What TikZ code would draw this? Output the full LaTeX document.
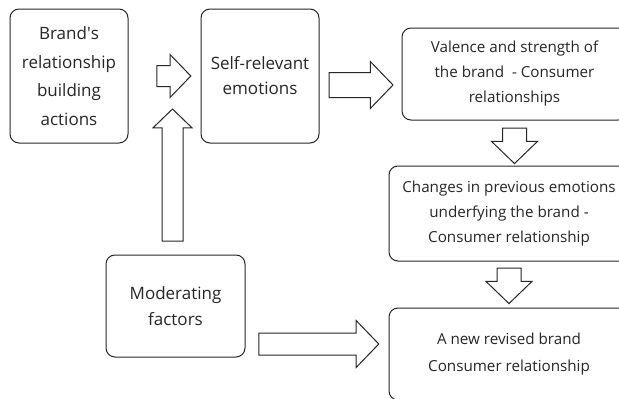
\documentclass[tikz,border=0pt]{standalone}
\usepackage{fontspec}
\setmainfont{Open Sans}
\usetikzlibrary{positioning,shapes.arrows}

\begin{document}
\begin{tikzpicture}[
		box/.style={rectangle, rounded corners=9pt, draw=black!85, line width=1pt, align=center, text=black!85, inner sep=0pt},
		bigbox/.style={box, font=\fontsize{17}{25}\selectfont},
		smallbox/.style={box, font=\fontsize{15.2}{25}\selectfont},
		barrow/.style={single arrow, draw=black!85, line width=1pt, fill=white, inner sep=10pt, single arrow head extend=11pt, single arrow tip angle=92}
	]
	\useasboundingbox (0,0) rectangle (619pt,-399pt);
	\node[bigbox, minimum width=118pt, minimum height=134pt, font=\fontsize{17}{28.5}\selectfont] (brand) at (69pt,-76pt) {Brand\textquotesingle s\\relationship\\building\\actions};
	\node[bigbox, minimum width=118pt, minimum height=134pt] (self) [right=72pt of brand] {Self-relevant\\emotions};
	\node[smallbox, minimum width=225pt, minimum height=92pt] (valence) [right=82pt of self, yshift=2pt] {Valence and strength of\\the brand~ - Consumer\\relationships};
	\node[smallbox, minimum width=240pt, minimum height=95pt] (changes) [below=45pt of valence, xshift=-5.5pt] {Changes in previous emotions\\underfying the brand -\\Consumer relationship};
	\node[smallbox, minimum width=240pt, minimum height=92pt, font=\fontsize{15.2}{27}\selectfont] (revised) [below=46pt of changes] {A new revised brand\\Consumer relationship};
	\node[bigbox, minimum width=139pt, minimum height=102pt, font=\fontsize{17}{26}\selectfont] (moderating) at (175.5pt,-306pt) {Moderating\\factors};
	% block arrows
	\node[barrow, minimum height=34pt] (a1) [left=9pt of self] {};
	\node[barrow, minimum height=64pt, inner sep=12pt] (a2) [right=9pt of self, yshift=-9pt] {};
	\node[barrow, minimum height=35pt, inner sep=11.5pt, shape border rotate=270] (a3) [below=7pt of valence] {};
	\node[barrow, minimum height=34pt, inner sep=11.5pt, shape border rotate=270] (a4) [below=6pt of changes] {};
	\node[barrow, minimum height=132pt, single arrow head extend=9pt, shape border rotate=90] (a5) [above=13pt of moderating, xshift=-3pt] {};
	\node[barrow, minimum height=120pt, inner sep=10.5pt, single arrow head extend=12.5pt] (a6) [left=9pt of revised, yshift=10pt] {};
\end{tikzpicture}
\end{document}
